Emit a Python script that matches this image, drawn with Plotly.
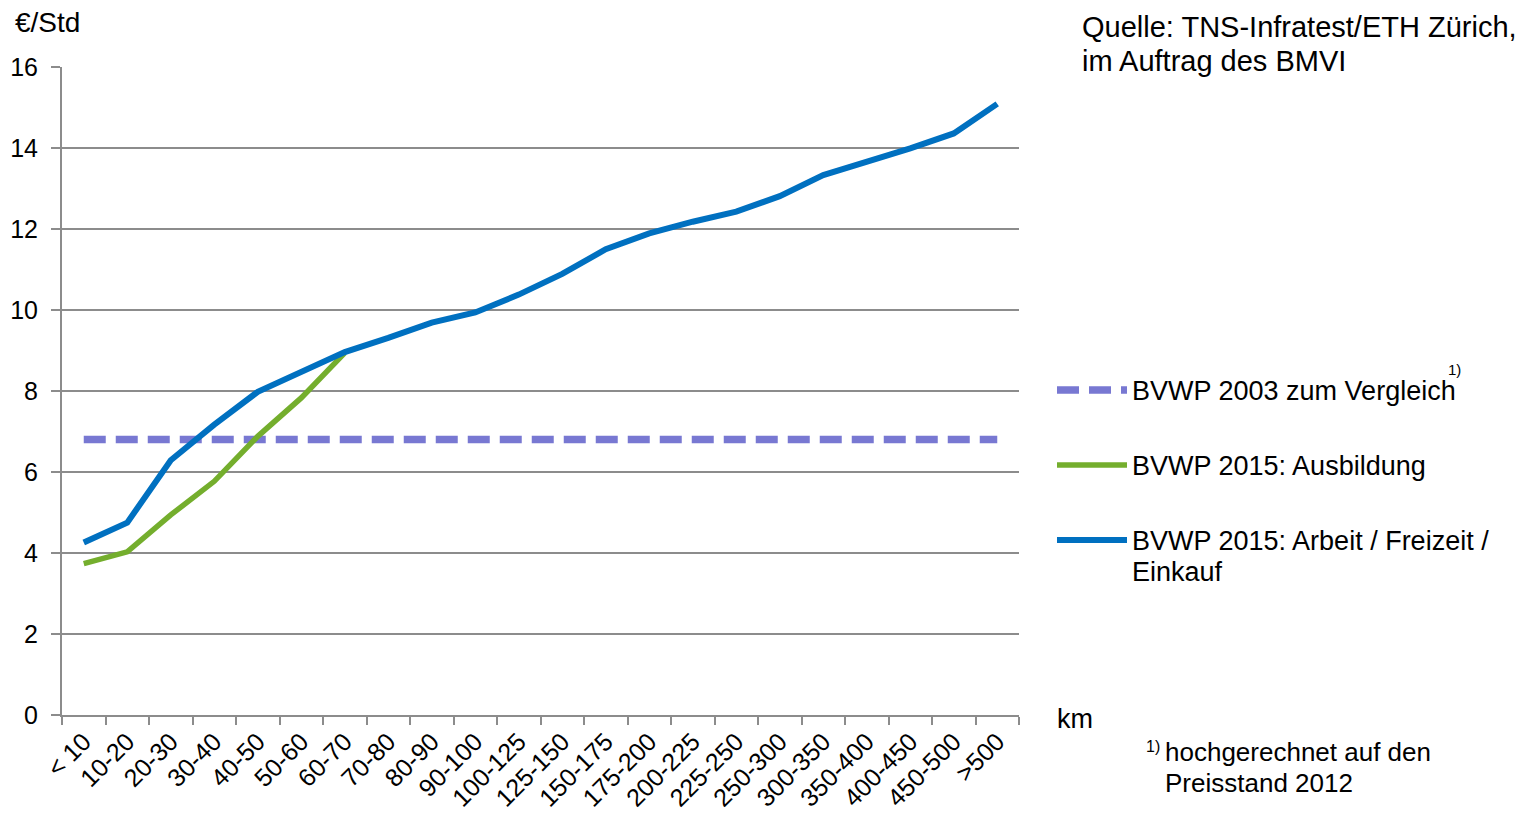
import plotly.graph_objects as go

# Distance bands (km)
categories = ["< 10", "10-20", "20-30", "30-40", "40-50", "50-60", "60-70",
              "70-80", "80-90", "90-100", "100-125", "125-150", "150-175",
              "175-200", "200-225", "225-250", "250-300", "300-350",
              "350-400", "400-450", "450-500", ">500"]

# Value of travel time, €/Std
bvwp2003 = [6.8] * len(categories)
ausbildung = [3.74, 4.03, 4.94, 5.77, 6.88, 7.83, 8.94]
arbeit_freizeit = [4.26, 4.75, 6.29, 7.17, 7.98, 8.48, 8.96, 9.31, 9.69, 9.94,
                   10.38, 10.89, 11.50, 11.89, 12.18, 12.43, 12.81, 13.33,
                   13.65, 13.99, 14.36, 15.09]

y_ticks = [0, 2, 4, 6, 8, 10, 12, 14, 16]

BLUE = "#0070C0"
GREEN = "#74AE2D"
PURPLE = "#7878D2"
GRID = "#8C8C8C"
FONT = "Liberation Sans, Arial, sans-serif"

W, H = 1528, 816
L, R, T, B = 62, 1019, 67, 715  # plot area in pixels


def px(x):
    return (x - L) / (R - L)


def py(y):
    return (B - y) / (B - T)


def label(x, y, text, size, anchor="left"):
    fig.add_annotation(xref="paper", yref="paper", x=px(x), y=py(y),
                       xanchor=anchor, yanchor="middle", align="left",
                       text=text, showarrow=False,
                       font=dict(family=FONT, size=size, color="black"))


fig = go.Figure()

fig.add_trace(go.Scatter(
    x=categories, y=bvwp2003, mode="lines",
    line=dict(color=PURPLE, width=7.5, dash="22px,10px"),
    name="BVWP 2003 zum Vergleich", showlegend=False))
fig.add_trace(go.Scatter(
    x=categories[:len(ausbildung)], y=ausbildung, mode="lines",
    line=dict(color=GREEN, width=5.5),
    name="BVWP 2015: Ausbildung", showlegend=False))
fig.add_trace(go.Scatter(
    x=categories, y=arbeit_freizeit, mode="lines",
    line=dict(color=BLUE, width=6),
    name="BVWP 2015: Arbeit / Freizeit / Einkauf", showlegend=False))

# Legend drawn beside the plot
legend_items = [
    (390, PURPLE, 7.5, "22px,10px", ["BVWP 2003 zum Vergleich"]),
    (465, GREEN, 5.5, "solid", ["BVWP 2015: Ausbildung"]),
    (540, BLUE, 6, "solid", ["BVWP 2015: Arbeit / Freizeit /", "Einkauf"]),
]
for ypix, color, width, dash, lines in legend_items:
    fig.add_shape(type="line", xref="paper", yref="paper",
                  x0=px(1057), x1=px(1127), y0=py(ypix), y1=py(ypix),
                  line=dict(color=color, width=width, dash=dash))
    for i, text in enumerate(lines):
        label(1130, ypix + 1 + 31 * i, text, 27)

label(1446, 369, "1)", 15)

# Axis captions, source and footnote
label(13, 23, "€/Std", 28)
label(1055, 719, "km", 27)
label(1080, 27, "Quelle: TNS-Infratest/ETH Zürich,", 29)
label(1080, 61, "im Auftrag des BMVI", 29)
label(1144, 746, "1)", 16)
label(1163, 752, "hochgerechnet auf den", 26)
label(1163, 783, "Preisstand 2012", 26)

fig.update_layout(
    width=W, height=H,
    margin=dict(l=L, r=W - R, t=T, b=H - B, pad=0, autoexpand=False),
    paper_bgcolor="white", plot_bgcolor="white",
    font=dict(family=FONT, size=25, color="black"),
    xaxis=dict(
        type="category", categoryorder="array", categoryarray=categories,
        range=[-0.5, len(categories) - 0.5], automargin=False,
        tickangle=-45, tickson="boundaries", ticks="outside",
        ticklen=8, tickwidth=2, tickcolor=GRID,
        showline=True, linecolor=GRID, linewidth=2,
        showgrid=False, zeroline=False,
        tickfont=dict(family=FONT, size=25, color="black"),
    ),
    yaxis=dict(
        range=[0, 16], tickvals=y_ticks, ticks="outside", automargin=False,
        ticklen=9, tickwidth=2, tickcolor=GRID,
        showline=True, linecolor=GRID, linewidth=2,
        showgrid=True, gridcolor=GRID, gridwidth=2,
        zeroline=False, ticklabelstandoff=8,
        tickfont=dict(family=FONT, size=25, color="black"),
    ),
)

fig.write_html("out.html")
